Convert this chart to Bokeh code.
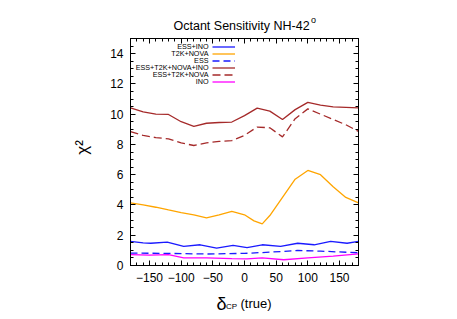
import numpy as np
from bokeh.plotting import figure
from bokeh.models import Label, LinearAxis, Legend, LegendItem, Range1d, FixedTicker
from bokeh.embed import file_html
from bokeh.resources import INLINE

# ---------------- data ----------------
x_all = [-180, -160, -140, -120, -100, -80, -60, -40, -20, 0, 20, 40, 60, 80, 100, 120, 140, 160, 180]
y_all4 = [10.42, 10.15, 10.0, 9.98, 9.5, 9.2, 9.4, 9.45, 9.48, 9.9, 10.4, 10.2, 9.65, 10.3, 10.78, 10.6, 10.48, 10.45, 10.42]
y_ess_t2k_nova = [8.85, 8.6, 8.45, 8.37, 8.1, 7.93, 8.1, 8.2, 8.25, 8.6, 9.15, 9.1, 8.5, 9.7, 10.35, 10.0, 9.65, 9.3, 8.86]

x_t2k = [-180, -160, -140, -120, -100, -80, -60, -40, -20, 0, 15, 28, 40, 60, 80, 100, 120, 140, 160, 180]
y_t2k = [4.14, 4.0, 3.85, 3.67, 3.5, 3.35, 3.15, 3.35, 3.57, 3.35, 2.95, 2.75, 3.3, 4.5, 5.7, 6.28, 6.0, 5.2, 4.5, 4.14]

x_essino = [-180, -160, -148, -122, -96, -70, -44, -18, 4, 28, 57, 84, 110, 136, 162, 180]
y_essino = [1.59, 1.5, 1.47, 1.55, 1.26, 1.37, 1.15, 1.33, 1.18, 1.37, 1.26, 1.47, 1.37, 1.59, 1.47, 1.59]

x_ess = [-180, -120, -60, 0, 40, 84, 120, 180]
y_ess = [0.82, 0.8, 0.76, 0.8, 0.88, 0.99, 0.95, 0.84]

x_ino = [-180, -150, -120, -96, -60, -20, 4, 28, 62, 100, 140, 180]
y_ino = [0.72, 0.68, 0.72, 0.5, 0.5, 0.45, 0.44, 0.5, 0.38, 0.5, 0.62, 0.77]

legend_labels = ["ESS+INO", "T2K+NOVA", "ESS", "ESS+T2K+NOVA+INO", "ESS+T2K+NOVA", "INO"]
x_ticks = [-150, -100, -50, 0, 50, 100, 150]
y_ticks = [0, 2, 4, 6, 8, 10, 12, 14]

FONT = "Liberation Sans"
X0, X1, Y0, Y1 = -180, 180, 0, 15
# frame edges in page pixels (annotation placement only)
L, R, T, B = 130, 358, 38, 265


def dx(px):
    return X0 + (px - L) / (R - L) * (X1 - X0)


def dy(py):
    return Y0 + (B - py) / (B - T) * (Y1 - Y0)


p = figure(width=457, height=319, frame_width=228, frame_height=227,
           min_border_left=130, min_border_right=99, min_border_top=38, min_border_bottom=54,
           x_range=Range1d(X0, X1), y_range=Range1d(Y0, Y1),
           output_backend="svg", toolbar_location=None)
p.grid.visible = False
p.outline_line_color = "black"
p.outline_line_width = 1
p.background_fill_color = "white"
p.border_fill_color = "white"

xminor = list(range(-180, 181, 10))
yminor = [v * 0.5 for v in range(0, 31)]
p.xaxis[0].ticker = FixedTicker(ticks=x_ticks, minor_ticks=xminor)
p.yaxis[0].ticker = FixedTicker(ticks=y_ticks, minor_ticks=yminor)
for ax in (p.xaxis[0], p.yaxis[0]):
    ax.major_tick_in = 5
    ax.major_tick_out = 0
    ax.minor_tick_in = 3
    ax.minor_tick_out = 0
    ax.major_label_text_font = FONT
    ax.major_label_text_font_size = "12px"
    ax.major_label_text_color = "black"
    ax.axis_line_color = "black"
    ax.major_label_standoff = 7

top = LinearAxis(ticker=FixedTicker(ticks=x_ticks, minor_ticks=xminor),
                 major_label_overrides={t: "" for t in x_ticks})
right = LinearAxis(ticker=FixedTicker(ticks=y_ticks, minor_ticks=yminor),
                   major_label_overrides={t: "" for t in y_ticks})
for ax in (top, right):
    ax.major_tick_in = 5
    ax.major_tick_out = 0
    ax.minor_tick_in = 3
    ax.minor_tick_out = 0
    ax.major_label_standoff = 0
    ax.axis_line_color = "black"
p.add_layout(top, "above")
p.add_layout(right, "right")

r1 = p.line(x_essino, y_essino, line_color="#1a1aff", line_width=1.3)
r2 = p.line(x_t2k, y_t2k, line_color="#ffa500", line_width=1.3)
r3 = p.line(x_ess, y_ess, line_color="#1a1aff", line_width=1.3, line_dash="7 4")
r4 = p.line(x_all, y_all4, line_color="#a52a2a", line_width=1.3)
r5 = p.line(x_all, y_ess_t2k_nova, line_color="#a52a2a", line_width=1.3, line_dash="8 4")
r6 = p.line(x_ino, y_ino, line_color="#ff00ff", line_width=1.3)
rends = [r1, r2, r3, r4, r5, r6]

leg = Legend(items=[LegendItem(label=" ", renderers=[r]) for r in rends],
             location=(82, 180), orientation="vertical",
             glyph_width=23, glyph_height=7, label_height=7, spacing=0,
             padding=0, margin=0, label_standoff=0,
             label_text_font_size="6px", background_fill_alpha=0,
             border_line_color=None)
p.add_layout(leg, "center")


def mk(px, py, text, size, align="left", baseline="alphabetic", angle=0.0):
    # data units map through the frame's own scales, whichever panel holds the label
    return Label(x=dx(px), y=dy(py), text=text, angle=angle,
                 text_align=align, text_baseline=baseline,
                 text_font=FONT, text_font_size=size, text_color="black")


# legend texts (inside the frame)
row_y0 = 46.0
row_step = 7.0
for i, t in enumerate(legend_labels):
    p.add_layout(mk(208, row_y0 + i * row_step, t, "7.2px",
                    align="right", baseline="middle"), "center")

# texts outside the frame live in side panels (appended after the axes)
p.add_layout(mk(173, 25, "Octant Sensitivity NH-42", "12.5px"), "above")
p.add_layout(mk(82, 147, "χ²", "17px", align="center", baseline="middle", angle=np.pi / 2), "left")
p.add_layout(mk(310.5, 19, "o", "9px"), "right")
p.add_layout(mk(216, 303, "δ", "18px"), "right")
p.add_layout(mk(225.5, 305.5, "CP", "8px"), "right")
p.add_layout(mk(240, 302.5, "(true)", "13px"), "right")

open("out.html", "w").write(file_html(p, INLINE))
